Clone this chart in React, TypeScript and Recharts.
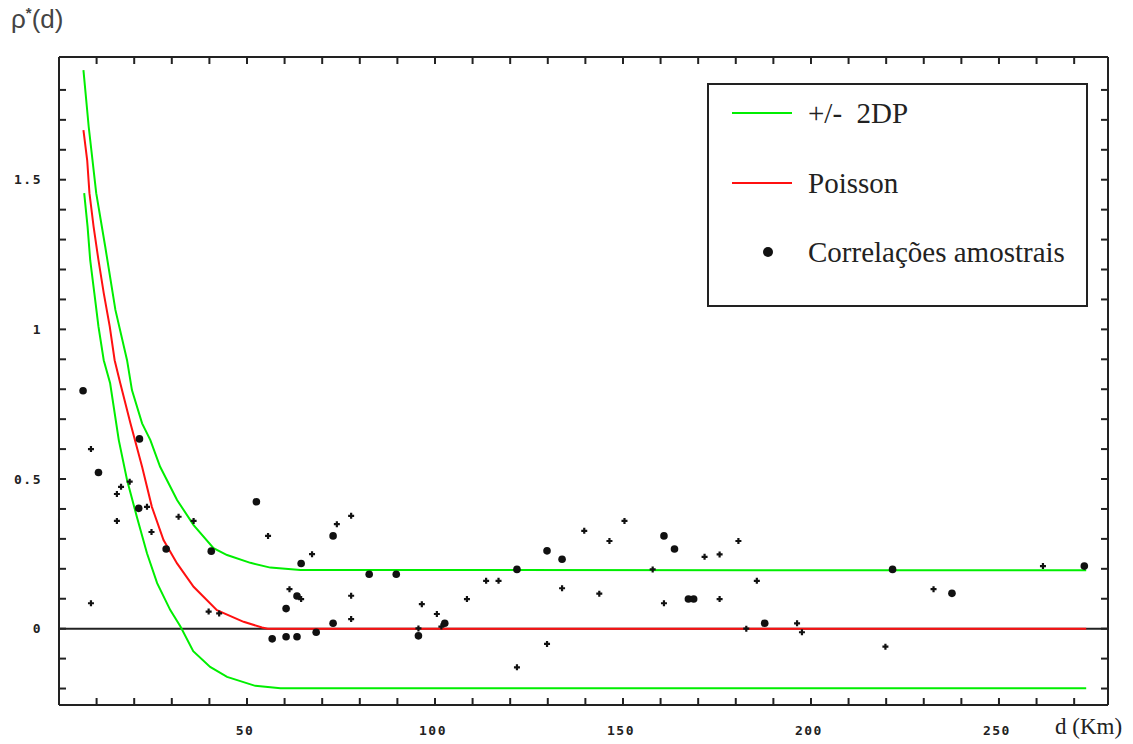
import React from 'react';
import { ComposedChart, Line, Scatter, XAxis, YAxis, ReferenceLine, Legend } from 'recharts';

// curves (distance d in km, correlation r)
const upperBand = [
  { d: 6.5, r: 1.866 }, { d: 7.9, r: 1.677 }, { d: 9.9, r: 1.455 }, { d: 12.3, r: 1.276 },
  { d: 15.0, r: 1.065 }, { d: 18.1, r: 0.897 }, { d: 19.4, r: 0.797 }, { d: 22.1, r: 0.686 },
  { d: 24.3, r: 0.63 }, { d: 26.9, r: 0.541 }, { d: 31.4, r: 0.43 }, { d: 35.8, r: 0.346 },
  { d: 41.1, r: 0.269 }, { d: 44.7, r: 0.246 }, { d: 50.9, r: 0.22 }, { d: 56.2, r: 0.204 },
  { d: 64.2, r: 0.196 }, { d: 273.2, r: 0.195 },
];

const poisson = [
  { d: 6.5, r: 1.666 }, { d: 7.5, r: 1.565 }, { d: 8.1, r: 1.455 }, { d: 9.2, r: 1.343 },
  { d: 10.5, r: 1.231 }, { d: 11.9, r: 1.121 }, { d: 13.5, r: 1.009 }, { d: 14.8, r: 0.897 },
  { d: 16.3, r: 0.82 }, { d: 19.0, r: 0.686 }, { d: 22.1, r: 0.541 }, { d: 24.7, r: 0.407 },
  { d: 27.8, r: 0.296 }, { d: 31.4, r: 0.218 }, { d: 35.8, r: 0.14 }, { d: 42.0, r: 0.062 },
  { d: 49.1, r: 0.023 }, { d: 54.0, r: 0.004 }, { d: 55.5, r: 0 }, { d: 273.2, r: 0 },
];

const lowerBand = [
  { d: 6.7, r: 1.455 }, { d: 7.6, r: 1.343 }, { d: 8.3, r: 1.231 }, { d: 9.4, r: 1.121 },
  { d: 10.5, r: 1.009 }, { d: 11.9, r: 0.897 }, { d: 13.6, r: 0.82 }, { d: 15.9, r: 0.63 },
  { d: 18.1, r: 0.497 }, { d: 20.7, r: 0.374 }, { d: 23.4, r: 0.252 }, { d: 26.1, r: 0.152 },
  { d: 29.6, r: 0.062 }, { d: 32.3, r: 0.007 }, { d: 35.7, r: -0.075 }, { d: 40.2, r: -0.128 },
  { d: 44.7, r: -0.161 }, { d: 52.2, r: -0.191 }, { d: 58.9, r: -0.199 }, { d: 273.2, r: -0.199 },
];

// sample correlations, drawn as large dots
const samplesLarge = [
  { d: 6.4, r: 0.795 }, { d: 10.5, r: 0.522 }, { d: 21.4, r: 0.634 }, { d: 21.2, r: 0.402 },
  { d: 28.5, r: 0.266 }, { d: 40.5, r: 0.259 }, { d: 52.5, r: 0.424 }, { d: 56.7, r: -0.034 },
  { d: 60.4, r: 0.067 }, { d: 60.4, r: -0.027 }, { d: 63.3, r: 0.109 }, { d: 63.3, r: -0.027 },
  { d: 64.4, r: 0.218 }, { d: 68.4, r: -0.012 }, { d: 72.9, r: 0.31 }, { d: 72.9, r: 0.018 },
  { d: 82.5, r: 0.182 }, { d: 89.7, r: 0.182 }, { d: 95.6, r: -0.024 }, { d: 102.6, r: 0.018 },
  { d: 121.8, r: 0.198 }, { d: 129.8, r: 0.26 }, { d: 133.8, r: 0.232 }, { d: 160.9, r: 0.31 },
  { d: 163.7, r: 0.266 }, { d: 167.4, r: 0.099 }, { d: 168.8, r: 0.099 }, { d: 187.7, r: 0.018 },
  { d: 221.7, r: 0.198 }, { d: 237.5, r: 0.118 }, { d: 272.7, r: 0.209 },
];

// sample correlations, drawn as small crosses
const samplesSmall = [
  { d: 8.5, r: 0.6 }, { d: 8.5, r: 0.085 }, { d: 15.4, r: 0.45 }, { d: 16.5, r: 0.474 },
  { d: 18.8, r: 0.491 }, { d: 15.4, r: 0.36 }, { d: 23.4, r: 0.407 }, { d: 24.6, r: 0.323 },
  { d: 31.8, r: 0.374 }, { d: 35.8, r: 0.36 }, { d: 39.8, r: 0.057 }, { d: 42.6, r: 0.051 },
  { d: 55.6, r: 0.31 }, { d: 61.3, r: 0.132 }, { d: 64.4, r: 0.099 }, { d: 67.3, r: 0.249 },
  { d: 73.9, r: 0.349 }, { d: 77.7, r: 0.377 }, { d: 77.7, r: 0.11 }, { d: 77.7, r: 0.032 },
  { d: 96.5, r: 0.082 }, { d: 95.6, r: 0.001 }, { d: 100.5, r: 0.049 }, { d: 101.7, r: 0.007 },
  { d: 108.5, r: 0.099 }, { d: 113.6, r: 0.16 }, { d: 116.9, r: 0.16 }, { d: 121.8, r: -0.129 },
  { d: 129.8, r: -0.051 }, { d: 133.8, r: 0.135 }, { d: 139.7, r: 0.327 }, { d: 143.7, r: 0.117 },
  { d: 146.4, r: 0.293 }, { d: 150.4, r: 0.36 }, { d: 157.9, r: 0.198 }, { d: 160.9, r: 0.085 },
  { d: 171.7, r: 0.24 }, { d: 175.7, r: 0.248 }, { d: 175.7, r: 0.099 }, { d: 180.7, r: 0.293 },
  { d: 182.8, r: 0 }, { d: 185.6, r: 0.16 }, { d: 196.3, r: 0.018 }, { d: 197.6, r: -0.012 },
  { d: 219.8, r: -0.06 }, { d: 232.6, r: 0.132 }, { d: 261.7, r: 0.209 },
];

const xTicks = [10, 20, 30, 40, 50, 60, 70, 80, 90, 100, 110, 120, 130, 140, 150, 160, 170, 180, 190, 200, 210, 220, 230, 240, 250, 260, 270];
const xLabels = [50, 100, 150, 200, 250];
const yTicks = [-0.2, -0.1, 0, 0.1, 0.2, 0.3, 0.4, 0.5, 0.6, 0.7, 0.8, 0.9, 1, 1.1, 1.2, 1.3, 1.4, 1.5, 1.6, 1.7, 1.8];
const yLabels = [0, 0.5, 1, 1.5];

const GREEN = '#00ee00';
const RED = '#ff1010';
const AXIS = '#222';
const SERIF = '"Liberation Serif", "Times New Roman", "DejaVu Serif", serif';
const tickFont = { fontFamily: '"DejaVu Sans Mono", monospace', fontSize: 13, fontWeight: 700, letterSpacing: 1.5, fill: AXIS };

const isLabel = (list: number[], v: number) => list.some((l) => Math.abs(l - v) < 1e-6);

const BottomTick = ({ x, y, payload }: any) => (
  <g>
    <line x1={x} x2={x} y1={y} y2={y - 7} stroke={AXIS} strokeWidth={2} />
    {isLabel(xLabels, payload.value) && (
      <text x={x - 2} y={y + 25} textAnchor="middle" dominantBaseline="central" {...tickFont}>{payload.value}</text>
    )}
  </g>
);
const TopTick = ({ x, y }: any) => <line x1={x} x2={x} y1={y} y2={y + 7} stroke={AXIS} strokeWidth={2} />;
const LeftTick = ({ x, y, payload }: any) => (
  <g>
    <line x1={x} x2={x + 7} y1={y} y2={y} stroke={AXIS} strokeWidth={2} />
    {isLabel(yLabels, payload.value) && (
      <text x={x - 17} y={y} textAnchor="end" dominantBaseline="central" {...tickFont}>{String(payload.value)}</text>
    )}
  </g>
);
const RightTick = ({ x, y }: any) => <line x1={x} x2={x - 7} y1={y} y2={y} stroke={AXIS} strokeWidth={2} />;

const BigDot = ({ cx, cy }: any) => <circle cx={cx} cy={cy} r={3.8} fill="#111" />;
const SmallCross = ({ cx, cy }: any) => (
  <path d={`M${cx - 3},${cy}H${cx + 3}M${cx},${cy - 3}V${cy + 3}`} stroke="#111" strokeWidth={2.2} />
);

const LegendBox = () => (
  <div
    style={{
      width: 381, height: 224, boxSizing: 'border-box', border: `2px solid ${AXIS}`, background: '#fff',
      position: 'relative', fontFamily: SERIF, fontSize: 29, color: '#222',
    }}
  >
    {[
      { label: '+/-  2DP', color: GREEN, top: 28 },
      { label: 'Poisson', color: RED, top: 98 },
    ].map((it) => (
      <div key={it.label}>
        <div style={{ position: 'absolute', left: 23, top: it.top - 1, width: 60, height: 2, background: it.color }} />
        <div style={{ position: 'absolute', left: 99, top: it.top - 17, lineHeight: '34px', whiteSpace: 'pre' }}>{it.label}</div>
      </div>
    ))}
    <div style={{ position: 'absolute', left: 54, top: 162, width: 10, height: 10, borderRadius: 5, background: '#111' }} />
    <div style={{ position: 'absolute', left: 99, top: 150, lineHeight: '34px', whiteSpace: 'pre' }}>Correlações amostrais</div>
  </div>
);

export default function App() {
  return (
    <div style={{ position: 'absolute', left: 0, top: 0, width: 1133, height: 744, background: '#fff' }}>
      <div style={{ position: 'absolute', left: 11, top: 4, fontFamily: '"Liberation Sans", sans-serif', fontSize: 26, color: '#444', whiteSpace: 'pre' }}>
        ρ<sup style={{ fontSize: 15, fontWeight: 700 }}>*</sup>(d)
      </div>
      <div style={{ position: 'absolute', left: 1055, top: 714, fontFamily: SERIF, fontSize: 23, color: '#222', whiteSpace: 'pre' }}>
        d (Km)
      </div>
      <ComposedChart width={1133} height={744} margin={{ top: 0, right: 0, bottom: 0, left: 0 }}>
        <XAxis xAxisId="bottom" orientation="bottom" type="number" dataKey="d" domain={[0, 279]} allowDataOverflow
          ticks={xTicks} interval={0} height={39} tickSize={0} tickMargin={0} tickLine={false}
          axisLine={{ stroke: AXIS, strokeWidth: 2 }} tick={<BottomTick />} />
        <XAxis xAxisId="top" orientation="top" type="number" dataKey="d" domain={[0, 279]} allowDataOverflow
          ticks={xTicks} interval={0} height={57} tickSize={0} tickMargin={0} tickLine={false}
          axisLine={{ stroke: AXIS, strokeWidth: 2 }} tick={<TopTick />} />
        <YAxis yAxisId="left" orientation="left" type="number" dataKey="r" domain={[-0.255, 1.91]} allowDataOverflow
          ticks={yTicks} interval={0} width={59} tickSize={0} tickMargin={0} tickLine={false}
          axisLine={{ stroke: AXIS, strokeWidth: 2 }} tick={<LeftTick />} />
        <YAxis yAxisId="right" orientation="right" type="number" dataKey="r" domain={[-0.255, 1.91]} allowDataOverflow
          ticks={yTicks} interval={0} width={25} tickSize={0} tickMargin={0} tickLine={false}
          axisLine={{ stroke: AXIS, strokeWidth: 2 }} tick={<RightTick />} />
        <Legend layout="vertical" align="center" verticalAlign="middle" content={<LegendBox />}
          wrapperStyle={{ left: 707, top: 83, width: 381, height: 224 }} />
        <ReferenceLine xAxisId="bottom" yAxisId="left" y={0} stroke={AXIS} strokeWidth={2} />
        <Scatter xAxisId="bottom" yAxisId="left" name="Correlações amostrais" data={samplesLarge} dataKey="r"
          shape={<BigDot />} isAnimationActive={false} />
        <Scatter xAxisId="bottom" yAxisId="left" name="samples small" data={samplesSmall} dataKey="r"
          shape={<SmallCross />} isAnimationActive={false} />
        <Line xAxisId="bottom" yAxisId="left" name="Poisson" data={poisson} dataKey="r" type="linear"
          stroke={RED} strokeWidth={2} dot={false} activeDot={false} isAnimationActive={false} />
        <Line xAxisId="bottom" yAxisId="left" name="+/- 2DP" data={upperBand} dataKey="r" type="linear"
          stroke={GREEN} strokeWidth={2} dot={false} activeDot={false} isAnimationActive={false} />
        <Line xAxisId="bottom" yAxisId="left" name="-2DP" data={lowerBand} dataKey="r" type="linear"
          stroke={GREEN} strokeWidth={2} dot={false} activeDot={false} isAnimationActive={false} legendType="none" />
      </ComposedChart>
    </div>
  );
}
